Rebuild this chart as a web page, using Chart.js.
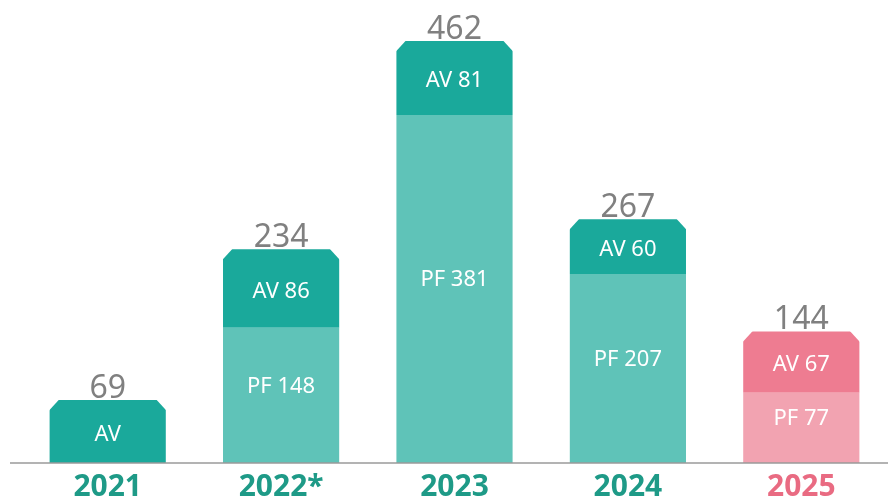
<!DOCTYPE html>
<html>
<head>
<meta charset="utf-8">
<script src="https://cdn.jsdelivr.net/npm/chart.js@4"></script>
<style>
  html, body { margin: 0; padding: 0; background: #fff; }
  #wrap { width: 888px; height: 501px; }
</style>
</head>
<body>
<div id="wrap"><canvas id="myChart"></canvas></div>
<script>
// Chart data
const years = ['2021', '2022*', '2023', '2024', '2025'];
const pfValues = [0, 148, 381, 207, 77];
const avValues = [69, 86, 81, 60, 67];
const totals = [69, 234, 462, 267, 144];
const avTexts = ['AV', 'AV 86', 'AV 81', 'AV 60', 'AV 67'];
const pfTexts = ['', 'PF 148', 'PF 381', 'PF 207', 'PF 77'];

const avColors = ['#1aa99b', '#1aa99b', '#1aa99b', '#1aa99b', '#ee7c91'];
const pfColors = ['#5fc3b8', '#5fc3b8', '#5fc3b8', '#5fc3b8', '#f2a3b1'];
const yearColors = ['#1e9a87', '#1e9a87', '#1e9a87', '#1e9a87', '#e96b82'];

const FONT = '"Noto Sans", "Open Sans", sans-serif';

// baseline, chamfered tops and the labels
const barDecor = {
    id: 'barDecor',
    afterDatasetsDraw(chart) {
        const ctx = chart.ctx;
        const y0 = chart.scales.y.getPixelForValue(0);
        const pfMeta = chart.getDatasetMeta(0);
        const avMeta = chart.getDatasetMeta(1);
        ctx.save();

        // cut the top corners
        const c = 10;
        ctx.fillStyle = '#ffffff';
        avMeta.data.forEach((bar) => {
            const l = bar.x - bar.width / 2, r = bar.x + bar.width / 2, t = bar.y;
            ctx.beginPath();
            ctx.moveTo(l - 1, t - 1); ctx.lineTo(l + c, t - 1); ctx.lineTo(l - 1, t + c + 1);
            ctx.closePath(); ctx.fill();
            ctx.beginPath();
            ctx.moveTo(r + 1, t - 1); ctx.lineTo(r - c, t - 1); ctx.lineTo(r + 1, t + c + 1);
            ctx.closePath(); ctx.fill();
        });

        // baseline
        ctx.strokeStyle = '#9a9a9a';
        ctx.lineWidth = 1.5;
        ctx.beginPath();
        ctx.moveTo(10, y0);
        ctx.lineTo(chart.width, y0);
        ctx.stroke();

        ctx.textAlign = 'center';
        ctx.textBaseline = 'middle';

        // segment labels
        ctx.fillStyle = '#ffffff';
        ctx.font = '22px ' + FONT;
        avMeta.data.forEach((bar, i) => {
            ctx.fillText(avTexts[i], bar.x, (bar.y + bar.base) / 2 + 3);
        });
        pfMeta.data.forEach((bar, i) => {
            if (!pfTexts[i]) return;
            ctx.fillText(pfTexts[i], bar.x, (bar.y + bar.base) / 2 - 9);
        });

        // totals
        ctx.fillStyle = '#808080';
        ctx.font = '32px ' + FONT;
        ctx.textBaseline = 'alphabetic';
        avMeta.data.forEach((bar, i) => {
            ctx.fillText(String(totals[i]), bar.x, bar.y - 2);
        });
        ctx.restore();
    }
};

const ctx = document.getElementById('myChart').getContext('2d');
const myChart = new Chart(ctx, {
    type: 'bar',
    data: {
        labels: years,
        datasets: [
            { label: 'PF', data: pfValues, backgroundColor: pfColors, borderWidth: 0 },
            { label: 'AV', data: avValues, backgroundColor: avColors, borderWidth: 0 }
        ]
    },
    options: {
        responsive: true,
        maintainAspectRatio: false,
        animation: false,
        layout: { padding: { left: 21, right: 0, top: 0, bottom: -10 } },
        datasets: {
            bar: { categoryPercentage: 1, barPercentage: 0.67 }
        },
        plugins: {
            legend: { display: false },
            tooltip: { enabled: false }
        },
        scales: {
            x: {
                stacked: true,
                grid: { display: false, drawTicks: false },
                border: { display: false },
                ticks: {
                    padding: 9,
                    color: (c) => yearColors[c.index],
                    font: { family: FONT, size: 30, weight: 'bold', lineHeight: 1 }
                }
            },
            y: {
                stacked: true,
                display: false,
                min: 0,
                max: 507
            }
        }
    },
    plugins: [barDecor]
});
</script>
</body>
</html>
